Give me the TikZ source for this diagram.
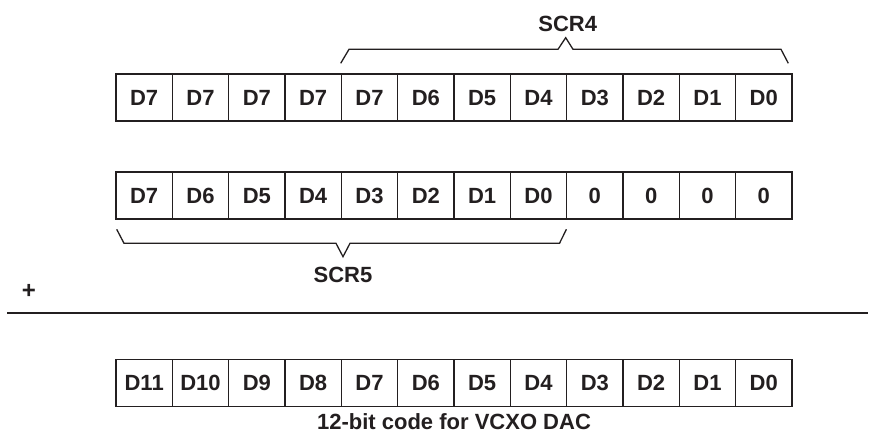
\documentclass[tikz,border=0pt]{standalone}
\usepackage{fontspec}
\setmainfont{Liberation Sans}
\definecolor{ink}{HTML}{231F20}
\tikzset{
  cell/.style={draw=ink, line width=1.6pt, minimum width=56.33pt, minimum height=47pt, inner sep=0pt, text=ink, text height=15.75pt, text depth=0pt, font=\bfseries\fontsize{22}{26}\selectfont},
  lbl/.style={inner sep=0pt, text=ink, text height=15.75pt, text depth=0pt, font=\bfseries\fontsize{22}{26}\selectfont},
  bracket/.style={draw=ink, line width=1.3pt, line join=miter},
  rule/.style={draw=ink, line width=2pt}
}
\begin{document}
\begin{tikzpicture}[x=1pt,y=-1pt]
\useasboundingbox[fill=white] (0,0) rectangle (870,434);
% row 1
\foreach \t [count=\i] in {D7,D7,D7,D7,D7,D6,D5,D4,D3,D2,D1,D0}
  \node[cell] (a\i) at ({116+(\i-0.5)*56.33},97.5) {\t};
% row 2
\foreach \t [count=\i] in {D7,D6,D5,D4,D3,D2,D1,D0,0,0,0,0}
  \node[cell] (b\i) at ({116+(\i-0.5)*56.33},195.5) {\t};
% row 3
\foreach \t [count=\i] in {D11,D10,D9,D8,D7,D6,D5,D4,D3,D2,D1,D0}
  \node[cell] (c\i) at ({116+(\i-0.5)*56.33},383) {\t};
% SCR4 bracket
\coordinate (s4l) at (340.7,63.3);
\coordinate (s4r) at (788.3,63.3);
\coordinate (s4p) at (565.7,37.7);
\draw[bracket] (s4l) -- (349,49.3) -- (558,49.3) -- (s4p) -- (573,49.3) -- (781,49.3) -- (s4r);
\node[lbl] (scr4) at (567.7,23.7) {SCR4};
% SCR5 bracket
\coordinate (s5l) at (116.7,229.3);
\coordinate (s5r) at (566.4,229.3);
\coordinate (s5p) at (343,256.7);
\draw[bracket] (s5l) -- (124,243.3) -- (336,243.3) -- (s5p) -- (350,243.3) -- (559.5,243.3) -- (s5r);
\node[lbl] (scr5) at (343,275) {SCR5};
% plus and rule
\node[lbl, font=\bfseries\fontsize{24}{28}\selectfont] (plus) at (29,290.7) {+};
\coordinate (rl) at (7,312.7);
\coordinate (rr) at (868,312.7);
\draw[rule] (rl) -- (rr);
\node[lbl] (cap) at (454,421.5) {12-bit code for VCXO DAC};
\end{tikzpicture}
\end{document}
